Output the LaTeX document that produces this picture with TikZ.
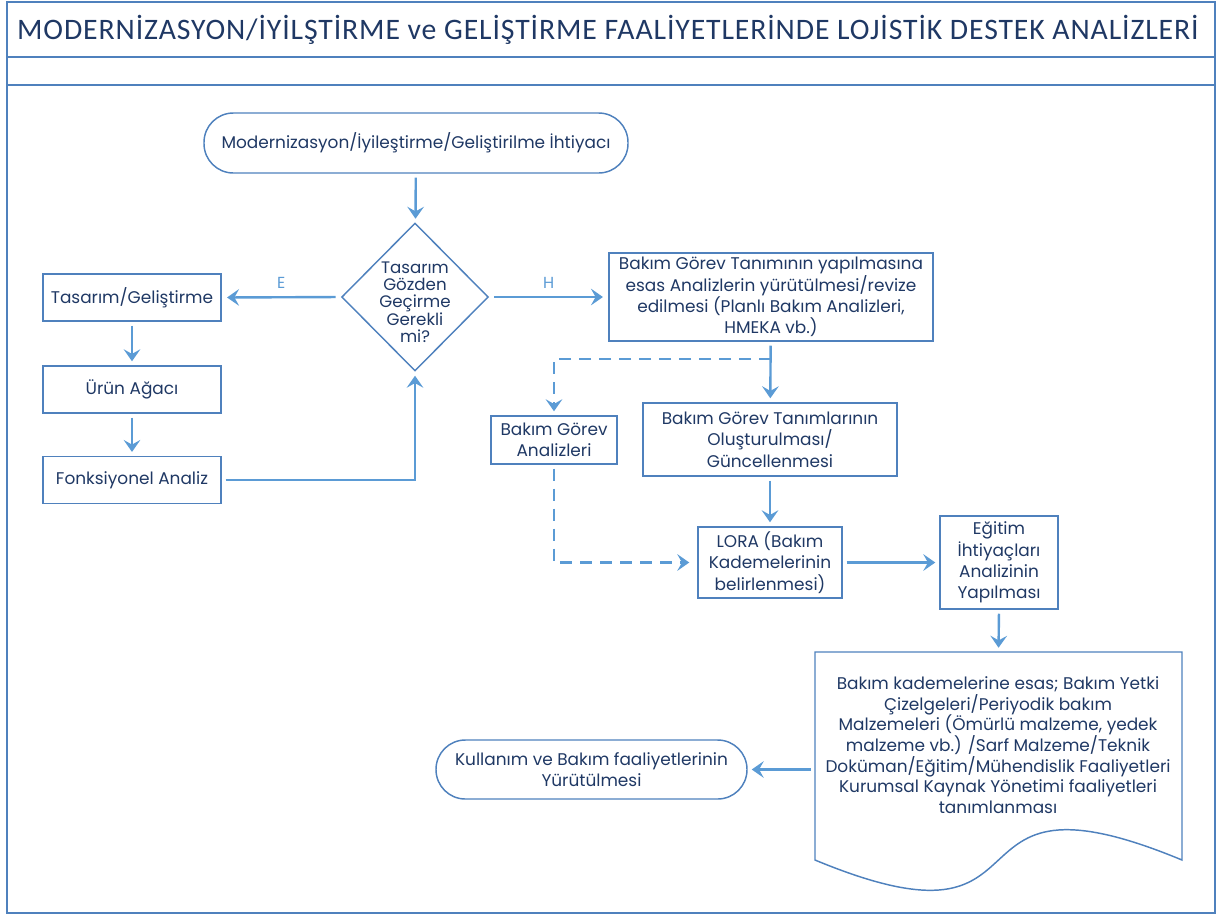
\documentclass[tikz,border=0pt]{standalone}
\usepackage{fontspec}
\setmainfont{Poppins}
\newfontfamily\titlefont[LetterSpace=3]{Carlito}
\usetikzlibrary{arrows.meta,shapes.geometric}
\definecolor{navy}{HTML}{1F3864}
\definecolor{frameblue}{HTML}{4F81BD}
\definecolor{arrowblue}{HTML}{5B9BD5}

\begin{document}
\begin{tikzpicture}[x=0.75pt,y=-0.75pt,
  every node/.style={text=navy},
  box/.style={draw=frameblue, line width=1.1pt, inner sep=2pt, align=center,
    font=\fontsize{12.7}{16}\selectfont},
  term/.style={box, rounded corners=22pt},
  dia/.style={draw=frameblue, line width=1.1pt, shape=diamond, inner sep=0pt,
    minimum width=110pt, minimum height=111pt},
  flow/.style={draw=arrowblue, line width=1.8pt,
    -{Stealth[length=9pt,width=12.5pt,inset=3.5pt]},
    shorten >=3pt, shorten <=3pt},
  dflow/.style={flow, dash pattern=on 9pt off 6pt, shorten <=0pt},
  lbl/.style={text=arrowblue, font=\fontsize{12}{13}\selectfont},
  frame/.style={draw=frameblue, line width=1.6pt}
]
\useasboundingbox (0,0) rectangle (1217,915);

% page frame with title band
\draw[frame] (7,2) rectangle (1215,913);
\draw[frame] (7,57) -- (1215,57);
\draw[frame] (7,85) -- (1215,85);
\node[font=\titlefont\fontsize{22.3}{26}\selectfont] (title) at (608,30)
  {MODERNİZASYON/İYİLŞTİRME ve GELİŞTİRME FAALİYETLERİNDE LOJİSTİK DESTEK ANALİZLERİ};

% start terminal and decision
\node[term, minimum width=318pt, minimum height=45pt] (start) at (416,143)
  {Modernizasyon/İyileştirme/Geliştirilme İhtiyacı};
\node[dia] (dec) at (415,297) {};
\node[align=center, font=\fontsize{12.5}{13}\selectfont] (dectext) at (415,302)
  {Tasarım\\Gözden\\Geçirme\\Gerekli\\mi?};

% design branch (left)
\node[box, minimum width=133.5pt, minimum height=35.25pt] (tg) at (132,297.5) {Tasarım/Geliştirme};
\node[box, minimum width=133.5pt, minimum height=35.25pt] (ua) at (132,389.5) {Ürün Ağacı};
\node[box, minimum width=133.5pt, minimum height=35pt] (fa) at (132,480) {Fonksiyonel Analiz};

% analysis branch (right)
\node[box, minimum width=243pt, minimum height=66pt] (bgt) at (771,297)
  {Bakım Görev Tanımının yapılmasına\\esas Analizlerin yürütülmesi/revize\\edilmesi (Planlı Bakım Analizleri,\\HMEKA vb.)};
\node[box, minimum width=94.5pt, minimum height=36pt] (bga) at (554,440)
  {Bakım Görev\\Analizleri};
\node[box, minimum width=190.5pt, minimum height=54.75pt] (bgo) at (770,439.5)
  {Bakım Görev Tanımlarının\\Oluşturulması/\\Güncellenmesi};
\node[box, minimum width=108pt, minimum height=53.25pt] (lora) at (770,562.5)
  {LORA (Bakım\\Kademelerinin\\belirlenmesi)};
\node[box, minimum width=88.5pt, minimum height=69.75pt] (egt) at (999,562.5)
  {Eğitim\\İhtiyaçları\\Analizinin\\Yapılması};

% document shape with wavy bottom edge
\node[inner sep=0pt, minimum width=275.25pt, minimum height=156pt] (doc) at (998.5,756) {};
\draw[draw=frameblue, line width=1.1pt]
  (815,652) -- (1182,652) -- (1182,860)
  .. controls (929,755) and (1068,965) .. (815,860) -- cycle;
\node[align=center, font=\fontsize{12.7}{15.5}\selectfont] (doctext) at (998,745)
  {Bakım kademelerine esas; Bakım Yetki\\Çizelgeleri/Periyodik bakım\\Malzemeleri (Ömürlü malzeme, yedek\\malzeme vb.) /Sarf Malzeme/Teknik\\Doküman/Eğitim/Mühendislik Faaliyetleri\\Kurumsal Kaynak Yönetimi faaliyetleri\\tanımlanması};

\node[term, minimum width=233.25pt, minimum height=44.25pt] (kul) at (591.5,769.5)
  {Kullanım ve Bakım faaliyetlerinin\\Yürütülmesi};

% connectors
\draw[flow] (start) -- (dec);
\draw[flow, shorten <=4pt, shorten >=4pt] (dec.west) -- node[lbl, above=2pt] (e) {E} (tg.east);
\draw[flow, shorten <=4pt, shorten >=4pt] (dec.east) -- node[lbl, above=2pt] (h) {H} (bgt.west);
\draw[flow] (tg) -- (ua);
\draw[flow] (ua) -- (fa);
\draw[flow] (fa.east) -| (dec.south);
\draw[flow] (bgt) -- (bgo);
\coordinate (br) at (bgt.south |- 0,359);
\draw[dflow] (br) -| (bga.north);
\draw[dflow, shorten <=3pt, shorten >=6pt] (bga.south) |- (lora.west);
\draw[flow] (bgo) -- (lora);
\draw[flow] (lora) -- (egt);
\draw[flow] (egt.south) -- (doc.north);
\draw[flow] (doc.west |- kul.east) -- (kul.east);
\end{tikzpicture}
\end{document}
